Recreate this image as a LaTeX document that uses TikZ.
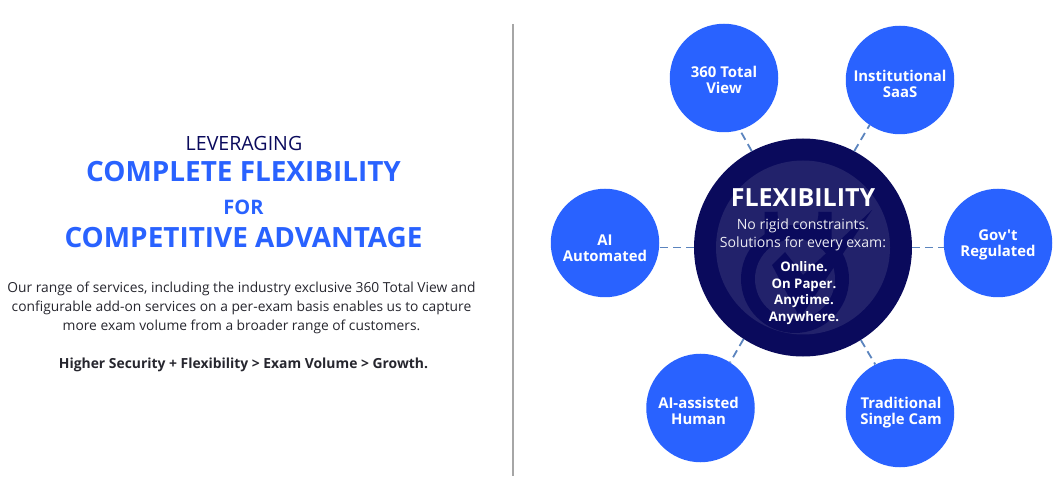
\documentclass[tikz,border=0pt]{standalone}
\usepackage{fontspec}
\setmainfont{Open Sans}
\newfontfamily\petalfont{Open Sans}
\definecolor{flexblue}{HTML}{2962FF}
\definecolor{flexnavy}{HTML}{0A0A5C}
\definecolor{flexwash}{HTML}{22226B}
\definecolor{flexdash}{HTML}{5B84BE}
\definecolor{flexink}{HTML}{26262E}
\tikzset{
  hub/.style={circle,fill=flexnavy,minimum size=218bp,inner sep=0pt},
  petal/.style={circle,fill=flexblue,minimum size=108.5bp,inner sep=0pt},
  petaltext/.style={text=white,align=center,inner sep=0pt,font=\petalfont\fontsize{14.9bp}{16.2bp}\selectfont\bfseries},
  spoke/.style={flexdash,line width=1.8bp,dash pattern=on 8bp off 5bp},
  head/.style={text=flexblue,font=\fontsize{27.9bp}{32bp}\selectfont\bfseries},
}
\begin{document}
\begin{tikzpicture}[x=1bp,y=-1bp]
  \useasboundingbox (0,0) rectangle (1056,500);
  \draw [black!35,line width=1.5bp] (513,24) coordinate (ruletop) -- (513,476) coordinate (rulebot);
  % Left column
  \node (lev) at (244,144) {\color{flexnavy}\fontsize{19.6bp}{22bp}\selectfont LEVERAGING};
  \node [head] (complete) at (243.5,172) {COMPLETE FLEXIBILITY};
  \node [text=flexblue,font=\fontsize{20bp}{24bp}\selectfont\bfseries] (for) at (243.5,207) {FOR};
  \node [head] (competitive) at (243.5,238) {COMPETITIVE ADVANTAGE};
  \node [text=flexink,align=center,font=\fontsize{13.8bp}{19.2bp}\selectfont] (body) at (241.5,308) {Our range of services, including the industry exclusive 360 Total View and\\configurable add-on services on a per-exam basis enables us to capture\\more exam volume from a broader range of customers.};
  \node [text=flexink,font=\fontsize{13.9bp}{17bp}\selectfont\bfseries] (tagline) at (243.5,365) {Higher Security + Flexibility > Exam Volume > Growth.};
  % Hub
  \node [hub] (hub) at (803,247.5) {};
  \fill [flexwash] (hub.center) circle (87);
  % Lock mark
  \draw [flexnavy,line width=13bp] (771,240) -- (771,212) arc (180:0:27 and 33) -- (825,240);
  \fill [flexnavy] (795,279) circle (54);
  \fill [flexwash] (795,279) circle (40);
  \fill [flexnavy] (772,265) -- (785,252) -- (803,275) -- (872,210) -- (800,318) -- cycle;
  % Petals
  \node [petal] (total) at (724,78) {};
  \node [petal] (saas) at (900,80) {};
  \node [petal] (auto) at (605,243) {};
  \node [petal] (govt) at (998,243) {};
  \node [petal] (human) at (700.5,408) {};
  \node [petal] (single) at (900,413) {};
  % Spokes
  \draw [spoke] (hub.118) -- (total.287);
  \draw [spoke] (hub.62) -- (saas.236);
  \draw [spoke] (hub.180) -- (auto.east |- hub.180);
  \draw [spoke] (hub.0) -- (govt.west |- hub.0);
  \draw [spoke] (hub.237) -- (human.57);
  \draw [spoke] (hub.302) -- (single.117);
  \node [petaltext] (totaltext) at (724,80) {360 Total\\View};
  \node [petaltext] (saastext) at (900,84) {Institutional\\SaaS};
  \node [petaltext] (autotext) at (605,248) {AI\\Automated};
  \node [petaltext] (govttext) at (998,244.5) {Gov't\\Regulated};
  \node [petaltext] (humantext) at (698.5,411) {AI-assisted\\Human};
  \node [petaltext] (singletext) at (901,413) {Traditional\\Single Cam};
  % Hub text
  \node [text=white,font=\fontsize{25bp}{30bp}\selectfont\bfseries] (title) at (803,198) {FLEXIBILITY};
  \node [text=white!92!flexnavy,align=center,font=\fontsize{14.1bp}{18bp}\selectfont] (lede) at (803,235) {No rigid constraints.\\Solutions for every exam:};
  \node [text=white,align=center,font=\fontsize{13.2bp}{16.7bp}\selectfont\bfseries] (modes) at (804,293) {Online.\\On Paper.\\Anytime.\\Anywhere.};
\end{tikzpicture}
\end{document}
